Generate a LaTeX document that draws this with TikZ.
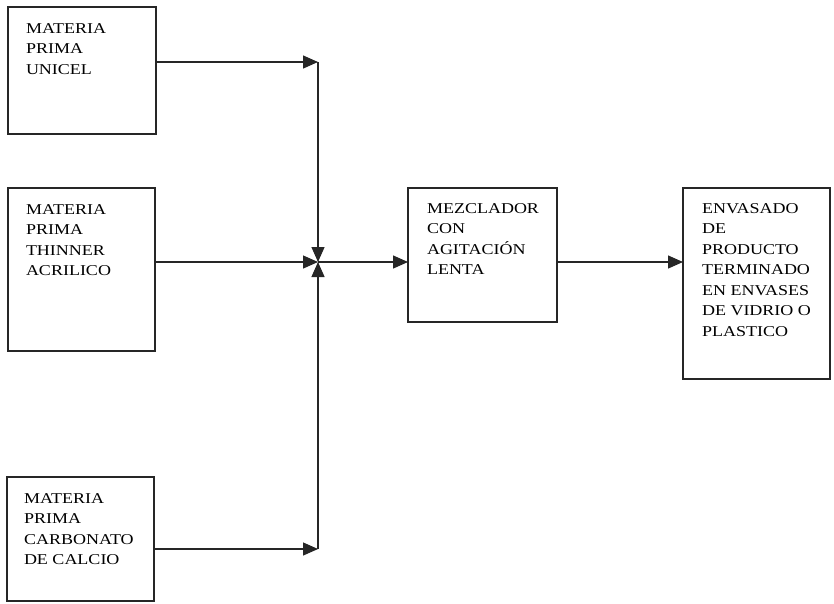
\documentclass[tikz,border=0pt]{standalone}
\usepackage{fontspec}
\setmainfont{Liberation Serif}[FakeStretch=1.2]
\usetikzlibrary{arrows.meta}
\begin{document}
\begin{tikzpicture}[x=1pt,y=-1pt,
  box/.style={draw=black!85, line width=1.3pt, inner sep=0pt, outer sep=0pt, anchor=north west},
  lbl/.style={anchor=north west, inner sep=0pt, outer sep=0pt, align=left,
              font=\fontsize{15}{20.5}\selectfont, text=black},
  arr/.style={draw=black!85, line width=1.3pt, -{Triangle[length=15pt,width=13pt]}},
  ln/.style={draw=black!85, line width=1.3pt}]
\useasboundingbox (0,0) rectangle (834,603);
\node[box, minimum width=148pt, minimum height=127pt] (b1) at (8,7) {};
\node[box, minimum width=147pt, minimum height=163pt] (b2) at (8,188) {};
\node[box, minimum width=147pt, minimum height=124pt] (b3) at (7,477) {};
\node[box, minimum width=149pt, minimum height=134pt] (m) at (408,188) {};
\node[box, minimum width=147pt, minimum height=191pt] (e) at (683,188) {};
\node[lbl] (t1) at ([xshift=18pt,yshift=-16.5pt]b1.north west) {MATERIA\\PRIMA\\UNICEL};
\node[lbl] (t2) at ([xshift=18pt,yshift=-16.5pt]b2.north west) {MATERIA\\PRIMA\\THINNER\\ACRILICO};
\node[lbl] (t3) at ([xshift=17pt,yshift=-16.5pt]b3.north west) {MATERIA\\PRIMA\\CARBONATO\\DE CALCIO};
\node[lbl] (tm) at ([xshift=19pt,yshift=-15.5pt]m.north west) {MEZCLADOR\\CON\\AGITACIÓN\\LENTA};
\node[lbl] (te) at ([xshift=19pt,yshift=-15.5pt]e.north west) {ENVASADO\\DE\\PRODUCTO\\TERMINADO\\EN ENVASES\\DE VIDRIO O\\PLASTICO};
\coordinate (j) at (318,262);
\coordinate (jt) at (318,62);
\coordinate (jb) at (318,549);
\draw[arr] (b1.east |- jt) -- (jt);
\draw[arr] (jt) -- (j);
\draw[arr] (b2.east |- j) -- (j);
\draw[arr] (b3.east |- jb) -- (jb);
\draw[arr] (jb) -- (j);
\draw[arr] (j) -- (m.west |- j);
\draw[arr] (m.east |- j) -- (e.west |- j);
\end{tikzpicture}
\end{document}
